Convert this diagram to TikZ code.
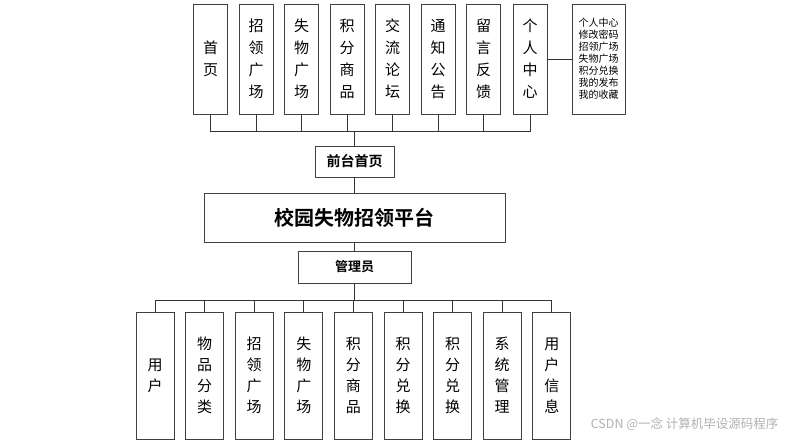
\documentclass[tikz,border=0pt]{standalone}
\usepackage{fontspec}
\newfontfamily\cjk[BoldFont={Noto Sans CJK SC Bold}]{Noto Sans CJK SC}
\usepackage{tikz}
\usetikzlibrary{positioning}

\begin{document}
\begin{tikzpicture}[
    x=1pt, y=-1pt,
    box/.style={draw=black!75, line width=0.9pt, inner sep=0pt, outer sep=0pt, align=center},
    topbox/.style={box, minimum width=34pt, minimum height=110pt,
      font=\cjk\fontsize{15}{22}\selectfont},
    lowbox/.style={box, minimum width=38pt, minimum height=127pt,
      font=\cjk\fontsize{15}{21}\selectfont},
    link/.style={draw=black!80, line width=0.9pt}]
    \path[fill=white, use as bounding box] (0,0) rectangle (786,444);

    % Blocco centrale
    \node[box, minimum width=301pt, minimum height=49pt,
      font=\cjk\bfseries\fontsize{20}{20}\selectfont] (platform) at (354.5,217.5) {校园失物招领平台};
    \node[box, minimum width=79pt, minimum height=31pt,
      font=\cjk\bfseries\fontsize{14}{14}\selectfont, above=16pt of platform] (front) {前台首页};
    \node[box, minimum width=113pt, minimum height=32pt,
      font=\cjk\bfseries\fontsize{13}{13}\selectfont, below=9pt of platform] (admin) {管理员};

    % Moduli del front-end
    \node[topbox] (home) at (210.5,59) {首\\页};
    \node[topbox, right=11.5pt of home] (recruit) {招\\领\\广\\场};
    \node[topbox, right=11.5pt of recruit] (lost) {失\\物\\广\\场};
    \node[topbox, right=11.5pt of lost] (goods) {积\\分\\商\\品};
    \node[topbox, right=11.5pt of goods] (forum) {交\\流\\论\\坛};
    \node[topbox, right=11.5pt of forum] (notice) {通\\知\\公\\告};
    \node[topbox, right=11.5pt of notice] (message) {留\\言\\反\\馈};
    \node[topbox, right=12.5pt of message] (personal) {个\\人\\中\\心};
    \node[box, minimum width=53pt, minimum height=110pt,
      font=\cjk\fontsize{10}{12}\selectfont, right=25pt of personal] (menu)
      {个人中心\\修改密码\\招领广场\\失物广场\\积分兑换\\我的发布\\我的收藏};

    % Moduli dell'amministratore
    \node[lowbox] (user) at (155,375.5) {用\\户};
    \node[lowbox, right=11.6pt of user] (category) {物\\品\\分\\类};
    \node[lowbox, right=11.6pt of category] (recruitm) {招\\领\\广\\场};
    \node[lowbox, right=11.6pt of recruitm] (lostm) {失\\物\\广\\场};
    \node[lowbox, right=11.6pt of lostm] (goodsm) {积\\分\\商\\品};
    \node[lowbox, right=11.6pt of goodsm] (exchange) {积\\分\\兑\\换};
    \node[lowbox, right=11.6pt of exchange] (exchangeb) {积\\分\\兑\\换};
    \node[lowbox, right=11.6pt of exchangeb] (system) {系\\统\\管\\理};
    \node[lowbox, right=11.6pt of system] (userinfo) {用\\户\\信\\息};

    % Collegamenti
    \coordinate[above=15pt of front.north] (topbus);
    \coordinate[below=17pt of admin.south] (lowbus);
    \draw[link] (front.north) -- (topbus)
      (home.south) |- (topbus) (recruit.south) |- (topbus)
      (lost.south) |- (topbus) (goods.south) |- (topbus)
      (forum.south) |- (topbus) (notice.south) |- (topbus)
      (message.south) |- (topbus) (personal.south) |- (topbus);
    \draw[link] (personal.east) -- (menu.west);
    \draw[link] (front.south) -- (platform.north);
    \draw[link] (platform.south) -- (admin.north);
    \draw[link] (admin.south) -- (lowbus)
      (lowbus) -| (user.north) (lowbus) -| (category.north)
      (lowbus) -| (recruitm.north) (lowbus) -| (lostm.north)
      (lowbus) -| (goodsm.north) (lowbus) -| (exchange.north)
      (lowbus) -| (exchangeb.north) (lowbus) -| (system.north)
      (lowbus) -| (userinfo.north);

    % Filigrana
    \node[font=\cjk\fontsize{12.5}{12.5}\selectfont, text=black!30, anchor=east] (mark)
      at (782,424) {CSDN @一念 计算机毕设源码程序};
\end{tikzpicture}
\end{document}
